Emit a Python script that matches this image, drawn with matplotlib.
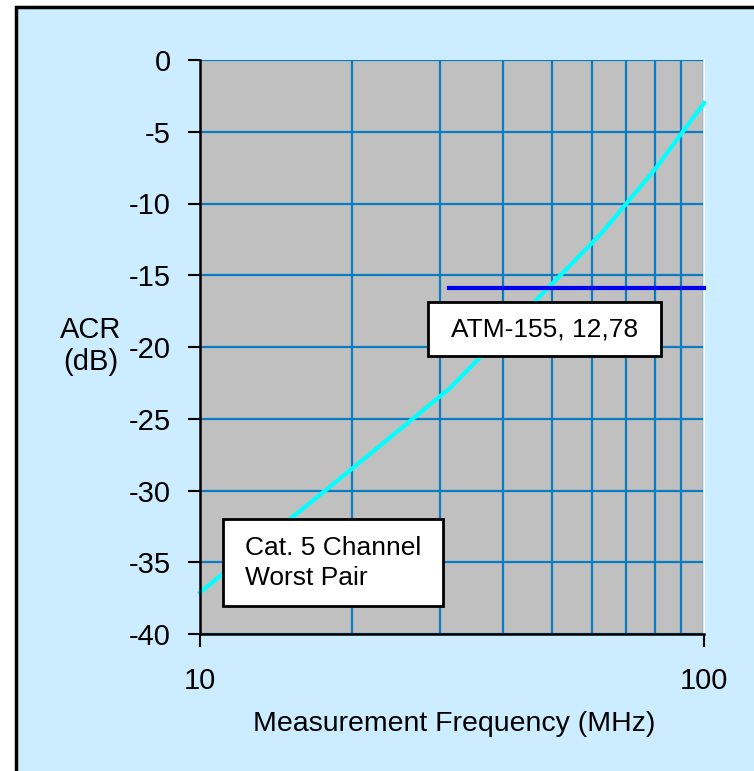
import matplotlib.pyplot as plt
from matplotlib.patches import Rectangle
from matplotlib.ticker import FixedLocator, NullFormatter

plt.rcParams['font.family'] = ['Liberation Sans', 'DejaVu Sans']

# Cat. 5 channel worst pair ACR
freq_mhz = [10, 20, 31.25, 62.5, 80, 100]
acr_db = [-37.1, -28.5, -22.9, -12.1, -7.6, -3.0]

# ATM-155 requirement line
atm_freq = [31.25, 100]
atm_acr = [-15.9, -15.9]

y_ticks = [0, -5, -10, -15, -20, -25, -30, -35, -40]
x_major = [10, 100]
x_minor = [20, 30, 40, 50, 60, 70, 80, 90]

fig = plt.figure(figsize=(7.54, 7.71), dpi=100)
fig.patch.set_facecolor('white')

# light blue panel with black border on top/left
panel = Rectangle((16 / 754, -0.05), 1.2, (771 - 7) / 771 + 0.05,
                  transform=fig.transFigure, facecolor='#CCECFF',
                  edgecolor='black', linewidth=2.5, zorder=-10)
fig.patches.append(panel)

ax = fig.add_axes([200 / 754, 137 / 771, 504 / 754, 574 / 771])
ax.set_facecolor('#C0C0C0')
ax.set_xscale('log')
ax.set_xlim(10, 100)
ax.set_ylim(-40, 0)

ax.xaxis.set_major_locator(FixedLocator(x_major))
ax.xaxis.set_minor_locator(FixedLocator(x_minor))
ax.xaxis.set_minor_formatter(NullFormatter())
ax.set_xticks(x_major)
ax.set_xticklabels([str(v) for v in x_major])
ax.set_yticks(y_ticks)
ax.set_yticklabels([str(v) for v in y_ticks])

ax.grid(True, which='both', color='#0A7CC2', linewidth=1.6)
ax.set_axisbelow(True)

ax.tick_params(axis='both', which='major', labelsize=21, direction='out',
               length=9, width=1.5, color='black')
ax.tick_params(axis='x', which='major', pad=15)
ax.tick_params(axis='y', which='major', pad=12)
ax.tick_params(axis='x', which='minor', length=0)

ax.spines['top'].set_visible(False)
ax.spines['right'].set_color('white')
ax.spines['right'].set_linewidth(1.2)
for side in ['left', 'bottom']:
    ax.spines[side].set_linewidth(1.8)
    ax.spines[side].set_color('black')
    ax.spines[side].set_zorder(5)

ax.plot(freq_mhz, acr_db, color='#00FFFF', linewidth=3, zorder=3, clip_on=False)
ax.plot(atm_freq, atm_acr, color='#0000EE', linewidth=3, zorder=3, clip_on=False)

# label boxes
ax.add_patch(Rectangle((0.452, 0.484), 0.463, 0.094, transform=ax.transAxes,
                       facecolor='white', edgecolor='black', linewidth=2,
                       zorder=6))
ax.text(0.683, 0.531, 'ATM-155, 12,78', transform=ax.transAxes, fontsize=19,
        ha='center', va='center', zorder=7)

ax.add_patch(Rectangle((0.046, 0.049), 0.436, 0.151, transform=ax.transAxes,
                       facecolor='white', edgecolor='black', linewidth=2,
                       zorder=6))
ax.text(0.089, 0.124, 'Cat. 5 Channel\nWorst Pair', transform=ax.transAxes,
        fontsize=19, ha='left', va='center', linespacing=1.3, zorder=7)

fig.text(91 / 754, 1 - 346 / 771, 'ACR\n(dB)', fontsize=21, ha='center',
         va='center', linespacing=1.2)
fig.text(454 / 754, 1 - 724 / 771, 'Measurement Frequency (MHz)', fontsize=20.5,
         ha='center', va='center')

fig.savefig('out.png', dpi=100)
